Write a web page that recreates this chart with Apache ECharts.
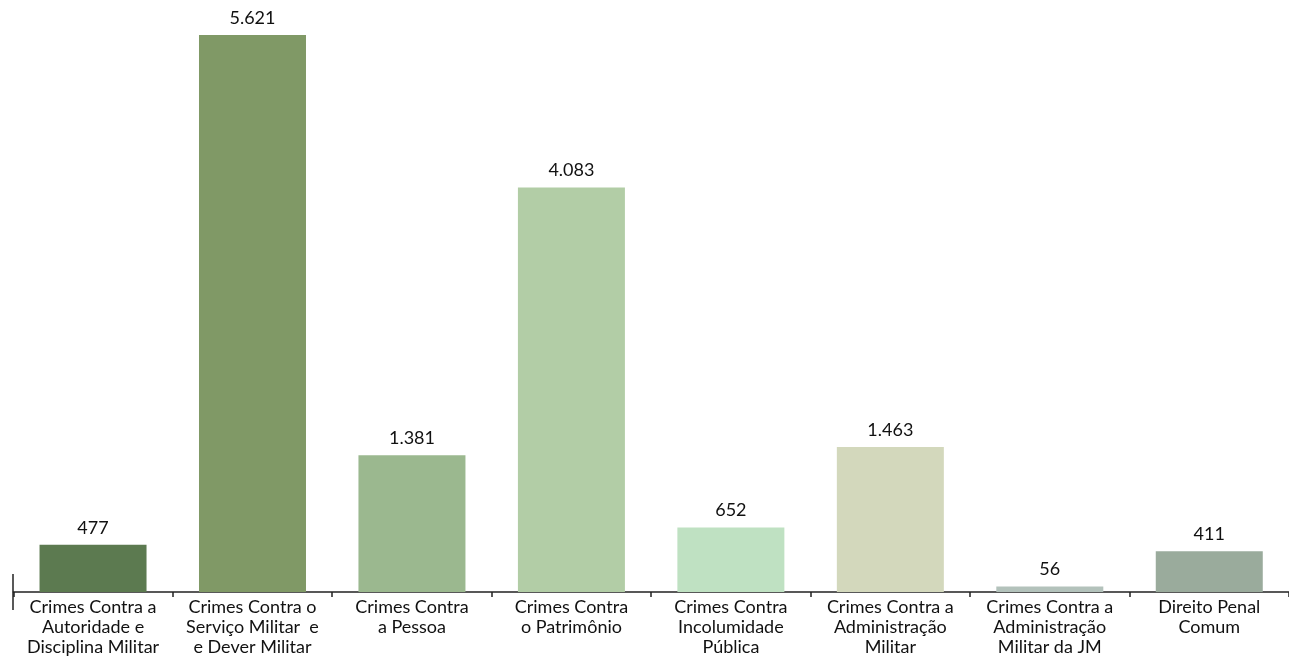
<!DOCTYPE html>
<html><head><meta charset="utf-8">
<script src="https://cdn.jsdelivr.net/npm/echarts@6/dist/echarts.min.js"></script>
<style>html,body{margin:0;padding:0;background:#fff}#c{width:1289px;height:666px}</style>
</head><body><div id="c"></div>
<script>
var categories = [
  "Crimes Contra a\nAutoridade e\nDisciplina Militar",
  "Crimes Contra o\nServiço Militar  e\ne Dever Militar",
  "Crimes Contra\na Pessoa",
  "Crimes Contra\no Patrimônio",
  "Crimes Contra\nIncolumidade\nPública",
  "Crimes Contra a\nAdministração\nMilitar",
  "Crimes Contra a\nAdministração\nMilitar da JM",
  "Direito Penal\nComum"
];
var values = [477, 5621, 1381, 4083, 652, 1463, 56, 411];
var colors = ["#5c7a50", "#809966", "#9bb88f", "#b2cda6", "#bfe1c2", "#d3d8bc", "#b3c2bb", "#9aab9c"];

function fmt(v){ return String(v).replace(/\B(?=(\d{3})+(?!\d))/g, "."); }

var chart = echarts.init(document.getElementById('c'));
chart.setOption({
  animation: false,
  grid: {left: 13.3, width: 1280, top: 0, bottom: 74, containLabel: false},
  xAxis: {
    type: 'category', data: categories,
    axisLine: {lineStyle: {color: '#222', width: 1.5}},
    axisTick: {show: true, length: 5, lineStyle: {color: '#222', width: 1.5}},
    axisLabel: {color: '#111', fontFamily: 'Lato, "Noto Sans", sans-serif', fontSize: 18, lineHeight: 20, margin: 5, interval: 0}
  },
  yAxis: {type: 'value', min: 0, max: 5975, show: false, splitLine: {show: false}},
  series: [{
    type: 'bar', barWidth: 107,
    data: values.map(function(v, i){ return {value: v, itemStyle: {color: colors[i]}}; }),
    label: {show: true, position: 'top', distance: 8, color: '#111', fontSize: 18,
      fontFamily: 'Lato, "Noto Sans", sans-serif', formatter: function(p){ return fmt(p.value); }}
  }],
  graphic: [{type: 'line', shape: {x1: 13, y1: 574, x2: 13, y2: 610}, style: {stroke: '#222', lineWidth: 1.5}}]
});
</script></body></html>
